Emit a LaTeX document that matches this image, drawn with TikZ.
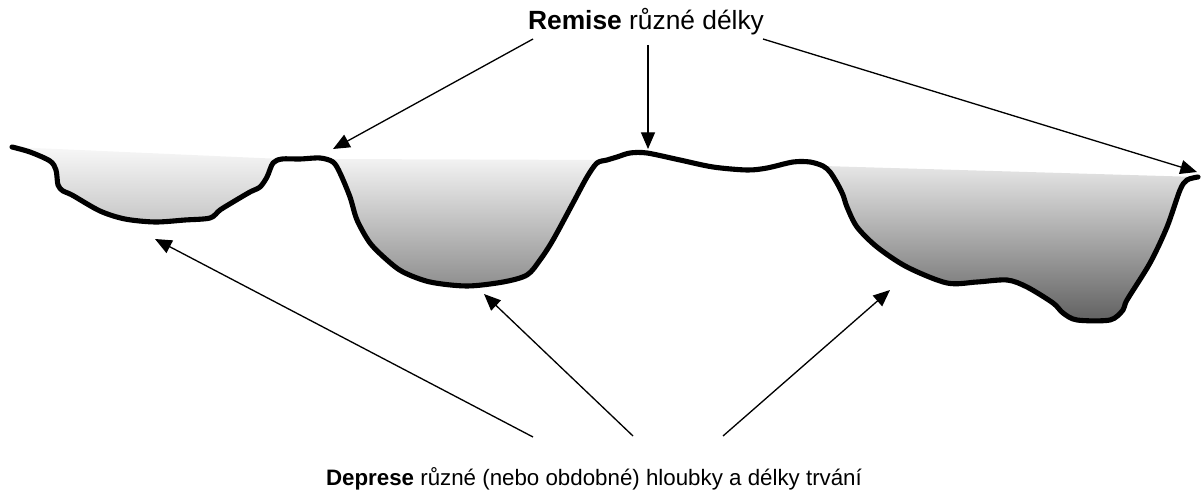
\documentclass[tikz,border=0pt]{standalone}
\usepackage{fontspec}
\setmainfont{Liberation Sans}
\usetikzlibrary{arrows.meta}
\definecolor{gAtop}{gray}{0.97}
\definecolor{gAbot}{gray}{0.78}
\definecolor{gBtop}{gray}{0.95}
\definecolor{gBbot}{gray}{0.56}
\definecolor{gCtop}{gray}{0.90}
\definecolor{gCbot}{gray}{0.38}
\begin{document}
\begin{tikzpicture}[x=0.02cm,y=-0.02cm,
  ground/.style={line width=2.9pt, line join=round, line cap=round},
  pointer/.style={line width=0.75pt, -{Triangle[length=9.5pt,width=8pt]}},
  caption/.style={anchor=base, inner sep=0pt}]
\useasboundingbox (0,0) rectangle (1202,493);
% basins
\shade[top color=gAtop, bottom color=gAbot] plot[smooth, tension=0.5] coordinates {(12,147) (30,152) (50,161) (56,170) (58,185) (63,191) (72,195) (100,211) (125,219) (155,222) (185,220) (210,218) (220,210) (233,202) (250,192) (260,187) (267,177) (273,163) (282,159)} -- cycle;
\shade[top color=gBtop, bottom color=gBbot] plot[smooth, tension=0.5] coordinates {(333,159) (340,173) (350,197) (357,220) (370,243) (387,260) (403,272) (430,282) (467,286) (503,282) (527,275) (540,260) (553,240) (573,203) (587,177) (597,163) (607,160)} -- cycle;
\shade[top color=gCtop, bottom color=gCbot] plot[smooth, tension=0.5] coordinates {(823,166) (830,172) (837,183) (843,195) (847,207) (857,227) (877,247) (907,267) (947,283) (977,282) (1007,280) (1027,287) (1053,303) (1063,313) (1077,320) (1110,320) (1123,310) (1127,300) (1150,263) (1167,227) (1180,190) (1187,180) (1198,177)} -- cycle;
% ground line
\draw[ground] plot[smooth, tension=0.5] coordinates {(12,147) (30,152) (50,161) (56,170) (58,185) (63,191) (72,195) (100,211) (125,219) (155,222) (185,220) (210,218) (220,210) (233,202) (250,192) (260,187) (267,177) (273,163) (282,159) (300,159) (320,158) (333,162) (340,173) (350,197) (357,220) (370,243) (387,260) (403,272) (430,282) (467,286) (503,282) (527,275) (540,260) (553,240) (573,203) (587,177) (597,163) (607,160) (617,157) (630,153) (647,153) (680,160) (713,167) (747,170) (767,168) (793,162) (810,162) (823,166) (830,172) (837,183) (843,195) (847,207) (857,227) (877,247) (907,267) (947,283) (977,282) (1007,280) (1027,287) (1053,303) (1063,313) (1077,320) (1110,320) (1123,310) (1127,300) (1150,263) (1167,227) (1180,190) (1187,180) (1198,177)};
% labels
\node[caption] (remise) at (646,30) {\fontsize{15}{18}\selectfont\textbf{Remise} různé délky};
\node[caption] (deprese) at (594,485) {\fontsize{12.7}{15}\selectfont\textbf{Deprese} různé (nebo obdobné) hloubky a délky trvání};
% arrow end points
\coordinate (r1s) at (533,39);  \coordinate (r1t) at (333,149);
\coordinate (r2s) at (648,45);  \coordinate (r2t) at (648,149);
\coordinate (r3s) at (763,39);  \coordinate (r3t) at (1197,172);
\coordinate (d1s) at (533,437); \coordinate (d1t) at (155,239);
\coordinate (d2s) at (633,436); \coordinate (d2t) at (484,294);
\coordinate (d3s) at (723,436); \coordinate (d3t) at (890,290);
\draw[pointer] (r1s) -- (r1t);
\draw[pointer] (r2s) -- (r2t);
\draw[pointer] (r3s) -- (r3t);
\draw[pointer] (d1s) -- (d1t);
\draw[pointer] (d2s) -- (d2t);
\draw[pointer] (d3s) -- (d3t);
\end{tikzpicture}
\end{document}
